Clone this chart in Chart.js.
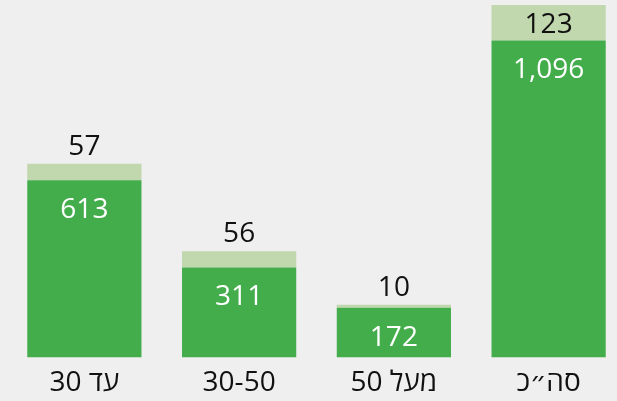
<!DOCTYPE html>
<html lang="he">
<head>
<meta charset="utf-8">
<script src="https://cdn.jsdelivr.net/npm/chart.js@4/dist/chart.umd.min.js"></script>
<style>
  html, body { margin: 0; padding: 0; background: #efefef; overflow: hidden; }
  #wrap { width: 626px; height: 401px; position: relative; }
</style>
</head>
<body>
<div id="wrap"><canvas id="mycanvas" dir="rtl"></canvas></div>
<script>
var categories = ['עד 30', '30-50', 'מעל 50', 'סה״כ'];
var baseValues = [613, 311, 172, 1096];
var extraValues = [57, 56, 10, 123];

var FONT = '"Open Sans", "DejaVu Sans Condensed", sans-serif';
var FONT_SIZE = 28;

// writes the numbers on the bars: white inside the dark part, black above the light part
var valueLabels = {
  id: 'valueLabels',
  afterDatasetsDraw: function(chart) {
    var ctx = chart.ctx;
    ctx.save();
    ctx.font = FONT_SIZE + 'px ' + FONT;
    ctx.textAlign = 'center';
    ctx.textBaseline = 'middle';
    ctx.direction = 'ltr';
    var base = chart.getDatasetMeta(0).data;
    var extra = chart.getDatasetMeta(1).data;
    for (var i = 0; i < base.length; i++) {
      ctx.fillStyle = '#ffffff';
      ctx.fillText(baseValues[i].toLocaleString('en-US'), base[i].x, base[i].y + 30);
      ctx.fillStyle = '#111111';
      var top = extra[i].y;
      var y = top - 17;
      if (y - 12 < chart.chartArea.top) {
        y = (top + extra[i].base) / 2 + 2;
      }
      ctx.fillText(extraValues[i].toLocaleString('en-US'), extra[i].x, y);
    }
    ctx.restore();
  }
};

var ctx = document.getElementById('mycanvas');

var chart = new Chart(ctx, {
  type: 'bar',
  data: {
    labels: categories,
    datasets: [
      {
        data: baseValues,
        backgroundColor: '#43ad4b',
        borderWidth: 0,
        barPercentage: 0.738,
        categoryPercentage: 1
      },
      {
        data: extraValues,
        backgroundColor: '#c1d7ad',
        borderWidth: 0,
        barPercentage: 0.738,
        categoryPercentage: 1
      }
    ]
  },
  options: {
    responsive: true,
    maintainAspectRatio: false,
    animation: false,
    layout: { padding: { left: 7, right: 0, top: 0, bottom: 0 } },
    plugins: {
      legend: { display: false },
      tooltip: { enabled: false }
    },
    scales: {
      x: {
        stacked: true,
        grid: { display: false, tickLength: 8 },
        border: { display: false },
        ticks: {
          color: '#111111',
          padding: 1,
          font: { family: FONT, size: FONT_SIZE }
        }
      },
      y: {
        stacked: true,
        display: false,
        min: 0,
        max: 1236
      }
    }
  },
  plugins: [valueLabels]
});
</script>
</body>
</html>
